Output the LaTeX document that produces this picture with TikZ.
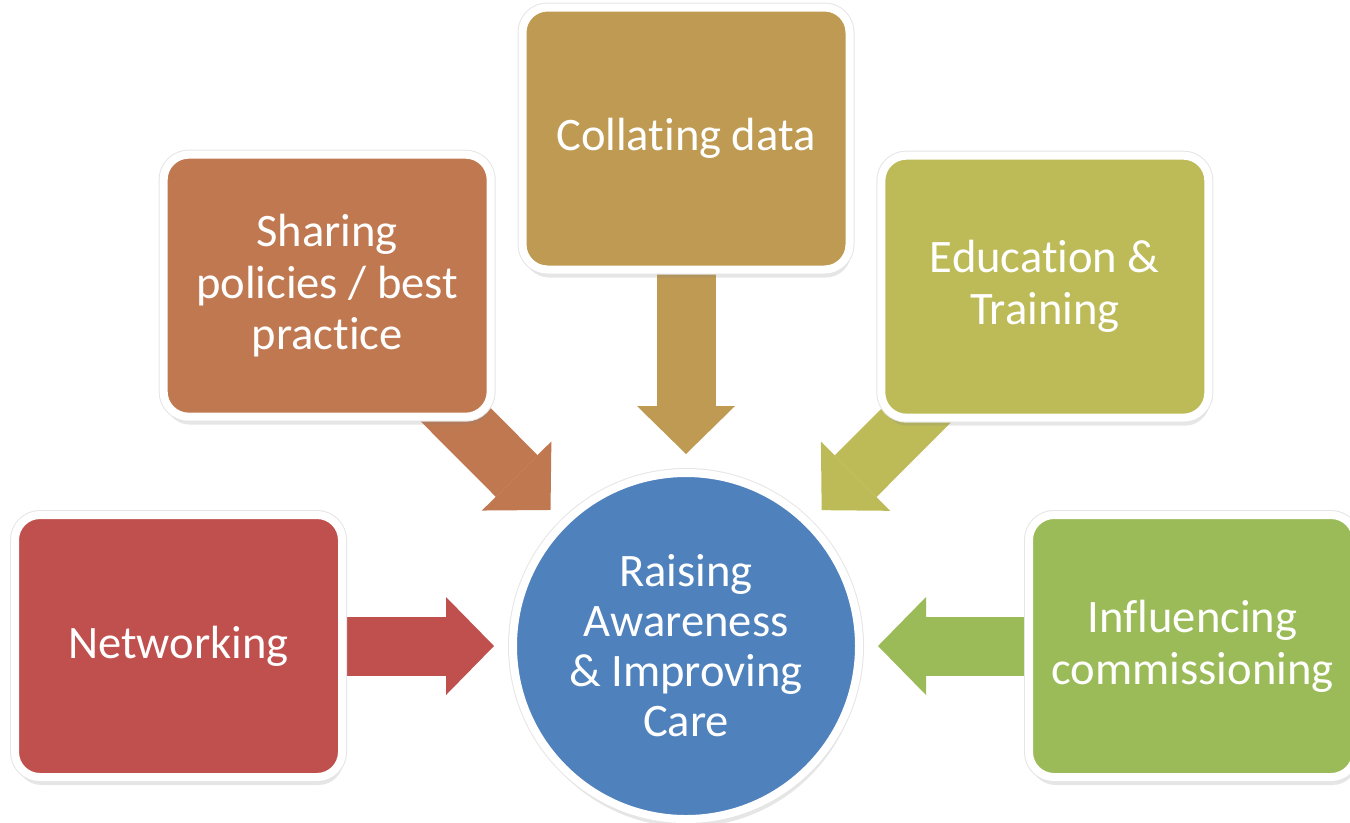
\documentclass[tikz,border=0pt]{standalone}
\usepackage{fontspec}
\setmainfont{Carlito}[Ligatures={NoCommon}]
\usepackage{tikz}
\usetikzlibrary{arrows.meta, positioning, shadows, backgrounds}
\newcommand{\unlig}{\kern0pt}
\definecolor{netred}{HTML}{C0504D}
\definecolor{shareorange}{HTML}{C07850}
\definecolor{collategold}{HTML}{BE9A52}
\definecolor{eduolive}{HTML}{BDBB58}
\definecolor{inflgreen}{HTML}{9BBB59}
\definecolor{hubblue}{HTML}{4F81BD}
\tikzstyle{card} = [rectangle, rounded corners=0.5cm, minimum width=6.54cm, minimum height=5.24cm, align=center, draw=white, line width=0.16cm, outer sep=0pt, text=white, font=\fontsize{26.5}{29.5}\selectfont, drop shadow={shadow xshift=0.03cm, shadow yshift=-0.16cm, opacity=0.2}, preaction={draw=black!10, line width=0.2cm}]
\tikzstyle{hubnode} = [circle, minimum size=6.92cm, align=center, draw=white, fill=hubblue, line width=0.16cm, outer sep=0pt, text=white, font=\fontsize{26.5}{28.5}\selectfont, drop shadow={shadow xshift=0.03cm, shadow yshift=-0.16cm, opacity=0.2}, preaction={draw=black!10, line width=0.2cm}]
\tikzstyle{flow} = [line width=1.18cm, shorten >=3.84cm, -{Triangle[length=0.96cm, width=1.96cm, line width=0pt]}]

\begin{document}
\begin{tikzpicture}
    \useasboundingbox (0,0) rectangle (27,-16.44);
    \node[hubnode] (hub) at (13.72,-12.92) {Raising\\Awareness\\\& Improving\\Care};
    \node[card, fill=netred, left=3.42cm of hub] (net) {Networking};
    \node[card, fill=shareorange, above left=2.14cm and 1.46cm of hub] (share) {Sharing\\policies / best\\pract\unlig ice};
    \node[card, fill=collategold, above=4.07cm of hub] (collate) {Collat\unlig ing data};
    \node[card, fill=eduolive, above right=2.12cm and 1.46cm of hub] (edu) {Educat\unlig ion \&\\Training};
    \node[card, fill=inflgreen, right=3.4cm of hub] (infl) {Inf\unlig luencing\\commissioning};

    \begin{scope}[on background layer]
        \draw[flow, netred] (net.center) -- (hub.center);
        \draw[flow, shareorange] (share.center) -- (hub.center);
        \draw[flow, collategold] (collate.center) -- (hub.center);
        \draw[flow, eduolive] (edu.center) -- (hub.center);
        \draw[flow, inflgreen] (infl.center) -- (hub.center);
    \end{scope}
\end{tikzpicture}
\end{document}
